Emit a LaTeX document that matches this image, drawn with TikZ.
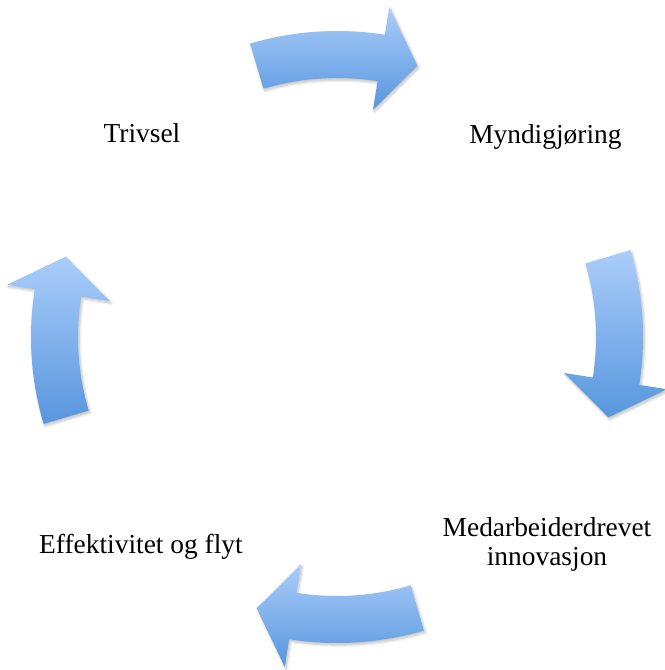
\documentclass[tikz,border=0pt]{standalone}
\usepackage{fontspec}
\setmainfont{Liberation Serif}
\usepackage{tikz}
\usetikzlibrary{positioning, shadows.blur}
\definecolor{arrowlight}{RGB}{170,205,250}
\definecolor{arrowdark}{RGB}{88,150,222}
\tikzset{
	cyclearrow/.style={
			top color=arrowlight,
			bottom color=arrowdark,
			draw=none,
			blur shadow={shadow xshift=1pt, shadow yshift=-1.5pt, shadow opacity=25, shadow blur steps=6}
		},
	cyclelabel/.style={
			font=\fontsize{19.5}{20}\selectfont,
			align=center,
			inner sep=0pt,
			anchor=base
		}
}
\begin{document}
\begin{tikzpicture}
\useasboundingbox (-8.425,-8.325) rectangle (8.175,8.425);

% curved arrows round the cycle
\foreach \a in {90,0,-90,180} {
  \shade[cyclearrow] (\a+16.5:7.65)
    arc[start angle=\a+16.5, end angle=\a-9, radius=7.65]
    -- (\a-9:8.35) -- (\a-16.5:7.075) -- (\a-9:5.75) -- (\a-9:6.475)
    arc[start angle=\a-9, end angle=\a+16.5, radius=6.475] -- cycle;
}

\node[cyclelabel] (trivsel) at (-4.875,4.85) {Trivsel};
\node[cyclelabel] (myndig) at (5.21,4.84) {Myndigjøring};
\node[cyclelabel] (innov) at (5.25,-5.7) {Medarbeiderdrevet\\innovasjon};
\node[cyclelabel] (effekt) at (-4.9,-5.4) {Effektivitet og flyt};
\end{tikzpicture}
\end{document}
